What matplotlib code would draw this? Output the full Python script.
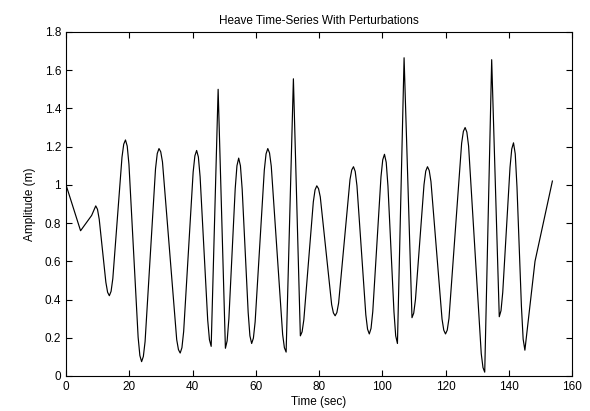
import numpy as np
import matplotlib.pyplot as plt

# heave record (extrema plus shoulder points)
time_s = [
    0.0, 4.6, 8.1, 9.4, 9.95, 10.5,
    12.6, 13.15, 13.7, 14.25, 14.8,
    17.7, 18.25, 18.8, 19.35, 19.9,
    22.8, 23.35, 23.9, 24.45, 25.0,
    28.3, 28.85, 29.4, 29.95, 30.5,
    35.0, 35.55, 36.1, 36.65, 37.2,
    40.2, 40.75, 41.3, 41.85, 42.4,
    44.8, 45.35, 45.9,
    48.1,
    50.4, 50.95, 51.5,
    53.5, 54.05, 54.6, 55.15, 55.7,
    57.6, 58.15, 58.7, 59.25, 59.8,
    62.7, 63.25, 63.8, 64.35, 64.9,
    68.5, 69.05, 69.6,
    71.9,
    74.1, 74.65, 75.2,
    78.2, 78.75, 79.3, 79.85, 80.4,
    84.0, 84.55, 85.1, 85.65, 86.2,
    89.8, 90.35, 90.9, 91.45, 92.0,
    94.8, 95.35, 95.9, 96.45, 97.0,
    99.6, 100.15, 100.7, 101.25, 101.8,
    103.7, 104.25, 104.8,
    106.9,
    109.4, 109.95, 110.5,
    113.2, 113.75, 114.3, 114.85, 115.4,
    118.9, 119.45, 120.0, 120.55, 121.1,
    125.1, 125.65, 126.2, 126.75, 127.3,
    131.3, 131.85, 132.4,
    134.6,
    137.0, 137.55, 138.1,
    140.4, 140.95, 141.5, 142.05, 142.6,
    144.0, 144.55, 145.1,
    148.3, 153.8,
]
amplitude_m = [
    1.00, 0.76, 0.84, 0.89, 0.872, 0.82,
    0.49, 0.438, 0.42, 0.443, 0.51,
    1.145, 1.213, 1.235, 1.203, 1.107,
    0.203, 0.107, 0.075, 0.102, 0.18,
    1.084, 1.164, 1.19, 1.173, 1.12,
    0.19, 0.138, 0.12, 0.148, 0.233,
    1.067, 1.152, 1.18, 1.146, 1.042,
    0.293, 0.19, 0.155,
    1.50,
    0.145, 0.184, 0.30,
    0.98, 1.10, 1.14, 1.10, 0.978,
    0.332, 0.21, 0.17, 0.198, 0.283,
    1.077, 1.162, 1.19, 1.167, 1.098,
    0.217, 0.148, 0.125,
    1.555,
    0.21, 0.231, 0.294,
    0.911, 0.974, 0.995, 0.98, 0.937,
    0.373, 0.33, 0.315, 0.332, 0.382,
    1.028, 1.078, 1.095, 1.07, 0.995,
    0.32, 0.245, 0.22, 0.249, 0.337,
    1.043, 1.131, 1.16, 1.118, 0.994,
    0.336, 0.21, 0.17,
    1.665,
    0.305, 0.329, 0.40,
    1.001, 1.072, 1.095, 1.075, 1.017,
    0.298, 0.24, 0.22, 0.24, 0.302,
    1.218, 1.28, 1.30, 1.276, 1.203,
    0.117, 0.044, 0.02,
    1.655,
    0.31, 0.342, 0.438,
    1.092, 1.188, 1.22, 1.162, 0.989,
    0.366, 0.193, 0.135,
    0.60, 1.02,
]

plt.rcParams.update({
    "font.family": ["Liberation Sans", "DejaVu Sans"],
    "font.size": 8.5,
    "xtick.direction": "in",
    "ytick.direction": "in",
    "xtick.top": True,
    "ytick.right": True,
    "xtick.major.size": 4,
    "ytick.major.size": 4,
    "axes.linewidth": 0.8,
})

fig = plt.figure(figsize=(5.9, 4.11), dpi=100)
ax = fig.add_axes([0.1119, 0.0852, 0.8576, 0.8370])

ax.plot(time_s, amplitude_m, color="black", linewidth=0.85)

ax.set_xlim(0, 160)
ax.set_ylim(0, 1.8)
ax.set_xticks(np.arange(0, 161, 20))
ax.set_yticks(np.round(np.arange(0, 1.81, 0.2), 1))
ax.set_yticklabels(["0", "0.2", "0.4", "0.6", "0.8", "1", "1.2", "1.4", "1.6", "1.8"])

ax.set_title("Heave Time-Series With Perturbations", fontsize=8.5, pad=6)
ax.set_xlabel("Time (sec)", labelpad=2)
ax.set_ylabel("Amplitude (m)", labelpad=6)

plt.savefig("out.png", dpi=100)
